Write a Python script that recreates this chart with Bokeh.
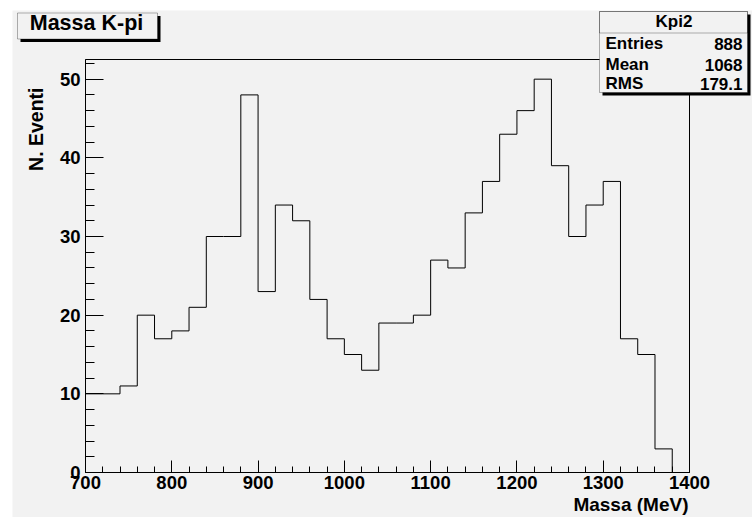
import numpy as np
from bokeh.plotting import figure
from bokeh.models import Range1d, SingleIntervalTicker, Label, BoxAnnotation
from bokeh.embed import file_html
from bokeh.resources import INLINE

# ---------------- data ----------------
x_min, x_max = 700, 1400
bin_width = 20
counts = [10, 10, 11, 20, 17, 18, 21, 30, 30, 48, 23, 34, 32, 22, 17, 15, 13,
          19, 19, 20, 27, 26, 33, 37, 43, 46, 50, 39, 30, 34, 37, 17, 15, 3, 0]
y_max = 52.5
title_text = "Massa K-pi"
x_title = "Massa (MeV)"
y_title = "N. Eventi"
hist_name = "Kpi2"
stats_names = ["Entries", "Mean", "RMS"]
stats_values = ["888", "1068", "179.1"]

edges = np.arange(x_min, x_max + bin_width, bin_width)
step_y = counts + [counts[-1]]

FONT = "Liberation Sans"
GREY = "#f2f2f2"

# page-pixel layout
OFF_X, OFF_Y = 12, 10          # white strip left / top
PAGE_W, PAGE_H = 752, 517
FR_L, FR_R, FR_T, FR_B = 85, 689, 59, 472   # histogram frame in page pixels
W, H = PAGE_W - OFF_X, PAGE_H - OFF_Y


def dx(px):
    return x_min + (px - FR_L) * (x_max - x_min) / (FR_R - FR_L)


def dy(py):
    return (FR_B - py) * y_max / (FR_B - FR_T)


def text(x, y, s, size, align="left", angle=0.0):
    p.add_layout(Label(x=dx(x), y=dy(y), text=s, text_font=FONT,
                       text_font_style="bold", text_font_size=size,
                       text_color="black", text_align=align,
                       text_baseline="middle", angle=angle))


p = figure(width=W, height=H,
           x_range=Range1d(dx(OFF_X), dx(PAGE_W)),
           y_range=Range1d(dy(PAGE_H), dy(OFF_Y)),
           output_backend="svg", toolbar_location=None,
           min_border=0, min_border_left=0, min_border_right=0,
           min_border_top=0, min_border_bottom=0,
           margin=(OFF_Y, 0, 0, OFF_X),
           background_fill_color=GREY, border_fill_color=GREY,
           outline_line_color=None)
p.grid.visible = False

xa = p.xaxis[0]
xa.ticker = SingleIntervalTicker(interval=100, num_minor_ticks=5)
xa.fixed_location = 0
xa.bounds = (x_min, x_max)
ya = p.yaxis[0]
ya.ticker = SingleIntervalTicker(interval=10, num_minor_ticks=5)
ya.fixed_location = x_min
ya.bounds = (0, y_max)
for ax, mj, mn, so in ((xa, 12, 6, 3), (ya, 18, 9, 5)):
    ax.major_tick_in = mj
    ax.major_tick_out = 0
    ax.minor_tick_in = mn
    ax.minor_tick_out = 0
    ax.major_label_standoff = so
    ax.major_label_text_font = FONT
    ax.major_label_text_font_style = "bold"
    ax.major_label_text_font_size = "18.5px"
    ax.major_label_text_color = "black"
    ax.axis_line_color = "black"
    ax.major_tick_line_color = "black"
    ax.minor_tick_line_color = "black"

# frame (top / right edges)
p.quad(left=[x_min], right=[x_max], bottom=[0], top=[y_max],
       fill_color=None, line_color="black", line_width=1)

# histogram outline
p.step(x=edges, y=step_y, mode="after", line_color="black", line_width=1)

# axis titles
text(688, 504, x_title, "19px", align="right")
text(35.5, 87, y_title, "19.5px", align="right", angle=np.pi / 2)

# title box with shadow
p.add_layout(BoxAnnotation(left=dx(20), right=dx(160), top=dy(15.5), bottom=dy(41.5),
                           fill_color="black", fill_alpha=1, line_color=None,
                           level="annotation"))
p.add_layout(BoxAnnotation(left=dx(17), right=dx(157), top=dy(12.5), bottom=dy(38.5),
                           fill_color=GREY, fill_alpha=1, line_color="black",
                           line_width=1, level="annotation"))
text(86, 22.5, title_text, "21.5px", align="center")

# stats box with shadow
p.add_layout(BoxAnnotation(left=dx(602), right=dx(750), top=dy(14), bottom=dy(95),
                           fill_color="black", fill_alpha=1, line_color=None,
                           level="annotation"))
p.add_layout(BoxAnnotation(left=dx(599), right=dx(747), top=dy(11), bottom=dy(92),
                           fill_color=GREY, fill_alpha=1, line_color="black",
                           line_width=1, level="annotation"))
p.add_layout(BoxAnnotation(left=dx(599), right=dx(747), top=dy(11), bottom=dy(32.5),
                           fill_alpha=0, line_color="black",
                           line_width=1, level="annotation"))
text(673.5, 21, hist_name, "17px", align="center")
for name, val, mid in zip(stats_names, stats_values, (43.3, 64.2, 83.3)):
    text(605, mid, name, "17px", align="left")
    text(742, mid, val, "17px", align="right")

open("out.html", "w").write(file_html(p, INLINE))
